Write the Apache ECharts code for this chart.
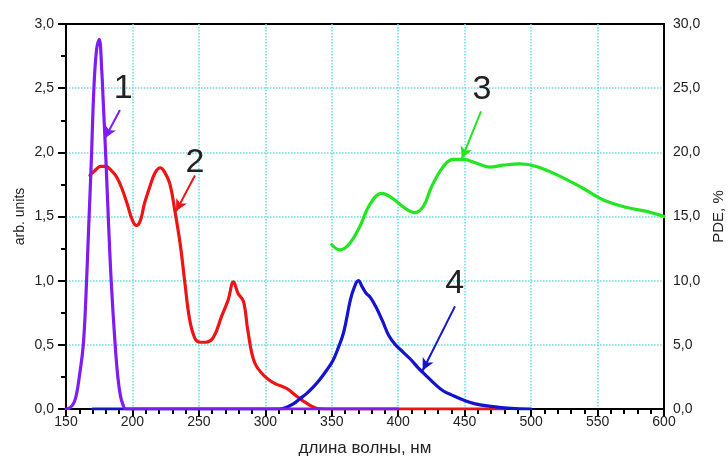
<!DOCTYPE html>
<html>
<head>
<meta charset="utf-8">
<script src="https://cdn.jsdelivr.net/npm/echarts@6/dist/echarts.min.js"></script>
<style>
  html, body { margin: 0; padding: 0; background: #fff; }
  #chart { width: 728px; height: 457px; }
</style>
</head>
<body>
<div id="chart"></div>
<script>
// curve 1 (purple), arb. units
const curve1 = [
  [150, 0], [153, 0.01], [156, 0.05], [158, 0.12], [160, 0.25], [163, 0.5], [165, 0.88],
  [167, 1.4], [169, 1.92], [171, 2.5], [173, 2.8], [175, 2.88], [177, 2.62], [178, 2.4],
  [180, 1.95], [182, 1.45], [184, 1.0], [187, 0.5], [189, 0.25], [191, 0.1], [193, 0.03],
  [195, 0], [400, 0]
]
// curve 2 (red), arb. units
const curve2 = [
  [168, 1.82], [172, 1.86], [176, 1.89], [180, 1.89], [184, 1.86], [188, 1.81], [192, 1.72],
  [196, 1.6], [200, 1.47], [203, 1.43], [206, 1.47], [209, 1.6], [213, 1.73], [217, 1.84],
  [221, 1.88], [224, 1.85], [228, 1.76], [232, 1.54], [236, 1.28], [239.5, 0.98], [243, 0.7],
  [247, 0.55], [251, 0.52], [255, 0.52], [261, 0.56], [267, 0.72], [272, 0.85], [276, 0.99],
  [279.5, 0.9], [283.5, 0.84], [287, 0.6], [292, 0.36], [300, 0.25], [307, 0.2], [316, 0.16],
  [323.5, 0.1], [331, 0.045], [338.5, 0.006], [345, 0], [480, 0]
]
// curve 3 (green), PDE %
const curve3 = [
  [350, 12.8], [356, 12.4], [363.5, 12.9], [371, 14.2], [379, 16.0], [387.5, 16.8],
  [396, 16.4], [405, 15.65], [412.5, 15.3], [419, 15.8], [425, 17.3], [434, 18.9],
  [441.5, 19.45], [449, 19.45], [459, 19.15], [469, 18.85], [479, 19.0], [491.5, 19.1],
  [504, 18.9], [521.5, 18.15], [539, 17.2], [554, 16.3], [572, 15.7], [587, 15.4], [600, 15.0]
]
// curve 4 (blue), arb. units
const curve4 = [
  [170, 0], [310, 0], [315, 0.01], [321, 0.04], [326, 0.08], [331, 0.12], [336, 0.17],
  [341, 0.23], [346, 0.3], [351, 0.38], [355, 0.48], [359, 0.6], [364, 0.85], [367, 0.95],
  [370, 1.0], [373, 0.95], [376, 0.9], [379, 0.87], [383, 0.8], [388, 0.69], [393, 0.57],
  [398, 0.5], [404, 0.44], [410, 0.38], [415, 0.32], [420, 0.27], [427, 0.2], [434, 0.14],
  [440, 0.11], [449, 0.07], [458, 0.04], [470, 0.02], [485, 0.005], [500, 0]
]

// annotation labels and arrows: [x, y] in data units of the curve's axis
const labels = { c1: [193, 2.5], c2: [247, 1.92], c3: [463, 24.85], c4: [442.5, 0.98] }
const arrows = {
  c1: [[190.6, 2.33], [179.3, 2.11]],
  c2: [[247, 1.82], [232.8, 1.54]],
  c3: [[462.3, 23.2], [447.8, 19.5]],
  c4: [[442.7, 0.8], [418.4, 0.3]]
}

const COLORS = { c1: '#7f1cf2', c2: '#ec1414', c3: '#22e622', c4: '#1414cc' }
const FONT = 'Liberation Sans, Arial, sans-serif'
const comma = (v) => v.toFixed(1).replace('.', ',')
const gridLine = {
  show: true, showMinLine: false, showMaxLine: false,
  lineStyle: { color: '#6adbe4', type: 'dotted', width: 1.5 }
}

function lineSeries(key, data, yAxisIndex, z) {
  return {
    type: 'line',
    data,
    yAxisIndex,
    z,
    smooth: 0.4,
    showSymbol: false,
    symbol: 'none',
    lineStyle: { color: COLORS[key], width: 3.2, cap: 'round', join: 'round' },
    markLine: {
      silent: true,
      symbol: ['none', 'arrow'],
      symbolSize: [9, 12],
      lineStyle: { color: COLORS[key], width: 2, type: 'solid' },
      label: { show: false },
      data: [[{ coord: arrows[key][0] }, { coord: arrows[key][1] }]]
    },
    markPoint: {
      silent: true,
      symbol: 'circle',
      symbolSize: 1,
      itemStyle: { color: 'transparent' },
      label: {
        show: true,
        formatter: key.slice(1),
        color: '#222',
        fontSize: 34,
        fontFamily: FONT
      },
      data: [{ coord: labels[key] }]
    }
  }
}

const chart = echarts.init(document.getElementById('chart'))
chart.setOption({
  animation: false,
  textStyle: { fontFamily: FONT },
  grid: {
    left: 66, right: 64, top: 24, bottom: 48,
    outerBoundsMode: 'none',
    show: true, borderColor: '#000', borderWidth: 2
  },
  xAxis: {
    type: 'value',
    min: 150, max: 600, interval: 50,
    name: 'длина волны, нм',
    nameLocation: 'middle',
    nameGap: 31,
    nameTextStyle: { color: '#222', fontSize: 17 },
    axisLine: { lineStyle: { color: '#000', width: 2 } },
    axisTick: { length: 8, lineStyle: { color: '#000', width: 2 } },
    minorTick: { show: true, splitNumber: 5, length: 5, lineStyle: { color: '#000', width: 2 } },
    axisLabel: { color: '#222', fontSize: 14, margin: 6 },
    splitLine: gridLine
  },
  yAxis: [
    {
      type: 'value',
      min: 0, max: 3, interval: 0.5,
      name: 'arb. units',
      nameLocation: 'middle',
      nameGap: 39,
      nameMoveOverlap: false,
      nameTextStyle: { color: '#222', fontSize: 14 },
      axisLine: { show: true, lineStyle: { color: '#000', width: 2 } },
      axisTick: { show: true, length: 8, lineStyle: { color: '#000', width: 2 } },
      minorTick: { show: true, splitNumber: 2, length: 5, lineStyle: { color: '#000', width: 2 } },
      axisLabel: { color: '#222', fontSize: 14, margin: 12, formatter: comma },
      splitLine: gridLine
    },
    {
      type: 'value',
      min: 0, max: 30, interval: 5,
      name: 'PDE, %',
      nameLocation: 'middle',
      nameGap: 42,
      nameRotate: 90,
      nameTextStyle: { color: '#222', fontSize: 15 },
      axisLine: { show: true, lineStyle: { color: '#000', width: 2 } },
      axisTick: { show: false },
      axisLabel: { color: '#222', fontSize: 14, margin: 9, formatter: comma },
      splitLine: { show: false }
    }
  ],
  series: [
    lineSeries('c3', curve3, 1, 2),
    lineSeries('c2', curve2, 0, 3),
    lineSeries('c4', curve4, 0, 4),
    lineSeries('c1', curve1, 0, 5)
  ]
})
</script>
</body>
</html>
